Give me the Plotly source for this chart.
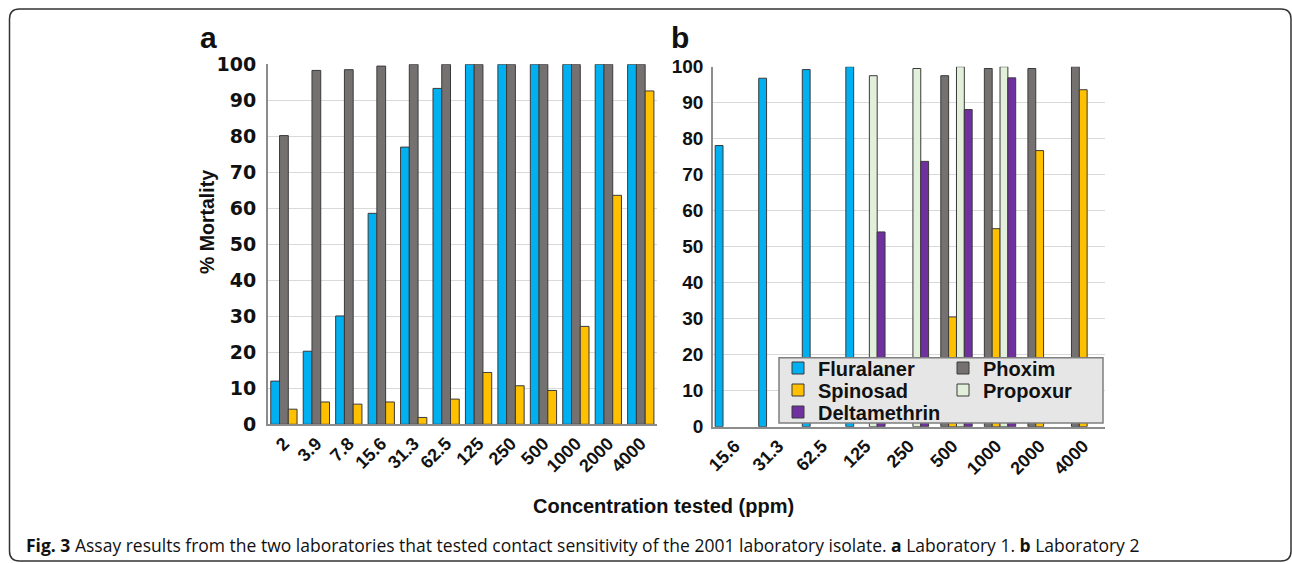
import plotly.graph_objects as go

# ---------------- data ----------------
conc_a = ["2", "3.9", "7.8", "15.6", "31.3", "62.5", "125", "250", "500", "1000", "2000", "4000"]
fluralaner_a = [12.0, 20.3, 30.1, 58.6, 77.0, 93.3, 100, 100, 100, 100, 100, 100]
phoxim_a = [80.2, 98.3, 98.5, 99.5, 100, 100, 100, 100, 100, 100, 100, 100]
spinosad_a = [4.2, 6.2, 5.6, 6.2, 1.9, 7.0, 14.4, 10.7, 9.4, 27.2, 63.6, 92.6]

conc_b = ["15.6", "31.3", "62.5", "125", "250", "500", "1000", "2000", "4000"]
fluralaner_b = [78.1, 96.8, 99.2, 100, None, None, None, None, None]
phoxim_b = [None, None, None, None, None, 97.5, 99.5, 99.5, 100]
spinosad_b = [None, None, None, None, None, 30.5, 55.0, 76.7, 93.6]
propoxur_b = [None, None, None, 97.5, 99.5, 100, 100, None, None]
deltamethrin_b = [None, None, None, 54.1, 73.7, 88.1, 96.9, None, None]

y_ticks = [0, 10, 20, 30, 40, 50, 60, 70, 80, 90, 100]

# ---------------- style ----------------
W, H = 1292, 563
def px(x):
    return x / W
def py(y):
    return 1 - y / H

COL = {"Fluralaner": "#00B0F0", "Phoxim": "#767171", "Spinosad": "#FFC000",
       "Propoxur": "#E2EFDA", "Deltamethrin": "#7030A0"}
OUTLINE = dict(color="#3a3a3a", width=1)
BOLD = "Liberation Sans, Arial, sans-serif"
WIDE = "DejaVu Sans, sans-serif"

fig = go.Figure()

# panel a (three touching bars per group)
bw_a = 0.27
for i, (name, vals) in enumerate([("Fluralaner", fluralaner_a), ("Phoxim", phoxim_a),
                                   ("Spinosad", spinosad_a)]):
    fig.add_trace(go.Bar(x=conc_a, y=vals, name=name, xaxis="x", yaxis="y",
                         marker=dict(color=COL[name], line=OUTLINE),
                         width=bw_a, offset=-1.5 * bw_a + i * bw_a,
                         showlegend=False))

# panel b
legend_of = {"Fluralaner": "legend", "Phoxim": "legend", "Spinosad": "legend2",
             "Propoxur": "legend2", "Deltamethrin": "legend3"}
for name, vals in [("Fluralaner", fluralaner_b), ("Phoxim", phoxim_b), ("Spinosad", spinosad_b),
                   ("Propoxur", propoxur_b), ("Deltamethrin", deltamethrin_b)]:
    fig.add_trace(go.Bar(x=conc_b, y=vals, name=name, xaxis="x2", yaxis="y2",
                         marker=dict(color=COL[name], line=OUTLINE),
                         legend=legend_of[name]))

axis_common = dict(showline=True, linecolor="#8c8c8c", linewidth=1.5, ticks="",
                   showgrid=False, zeroline=False, automargin=False)
yaxis_common = dict(range=[0, 100], tickvals=y_ticks, showgrid=True, gridcolor="#d9d9d9",
                    gridwidth=1, showline=True, linecolor="#8c8c8c", linewidth=1.5,
                    ticks="", zeroline=False, automargin=False)

leg_common = dict(orientation="h", xanchor="left", yanchor="middle", bgcolor="rgba(0,0,0,0)",
                  borderwidth=0, font=dict(family=BOLD, size=20, color="#111", weight="bold"),
                  traceorder="normal", itemclick=False, itemdoubleclick=False)

fig.update_layout(
    template="none",
    width=W, height=H, autosize=False,
    margin=dict(l=0, r=0, t=0, b=0, pad=0, autoexpand=False),
    paper_bgcolor="white", plot_bgcolor="white",
    barmode="group", bargap=0.1, bargroupgap=0,
    xaxis=dict(domain=[px(267.7), px(657)], type="category", tickangle=-45,
               tickfont=dict(family=BOLD, size=18, color="#111", weight="bold"),
               anchor="y", **axis_common),
    yaxis=dict(domain=[py(424.3), py(64.3)], anchor="x", ticklabelstandoff=6,
               tickfont=dict(family=WIDE, size=19, color="#111", weight="bold"), **yaxis_common),
    xaxis2=dict(domain=[px(713), px(1105)], type="category", tickangle=-45,
                tickfont=dict(family=BOLD, size=18, color="#111", weight="bold"),
                anchor="y2", **axis_common),
    yaxis2=dict(domain=[py(426.7), py(66.7)], anchor="x2", ticklabelstandoff=4,
                tickfont=dict(family=BOLD, size=19, color="#111", weight="bold"), **yaxis_common),
    legend=dict(x=px(778), y=py(368), entrywidth=120, **leg_common),
    legend2=dict(x=px(778), y=py(390), entrywidth=120, **leg_common),
    legend3=dict(x=px(778), y=py(412), entrywidth=160, **leg_common),
    showlegend=True,
)

# legend box behind legend entries (above the bars)
fig.add_shape(type="rect", xref="paper", yref="paper", layer="above",
              x0=px(779), x1=px(1103), y0=py(423), y1=py(357.7),
              fillcolor="#e6e6e6", line=dict(color="#7f7f7f", width=1.5))

# rounded frame around the figure
r = 10
x0, x1, y0, y1 = 9.5, 1291, 9, 561
path = (f"M {px(x0 + r)},{py(y0)} L {px(x1 - r)},{py(y0)} "
        f"Q {px(x1)},{py(y0)} {px(x1)},{py(y0 + r)} "
        f"L {px(x1)},{py(y1 - r)} Q {px(x1)},{py(y1)} {px(x1 - r)},{py(y1)} "
        f"L {px(x0 + r)},{py(y1)} Q {px(x0)},{py(y1)} {px(x0)},{py(y1 - r)} "
        f"L {px(x0)},{py(y0 + r)} Q {px(x0)},{py(y0)} {px(x0 + r)},{py(y0)} Z")
fig.add_shape(type="path", path=path, xref="paper", yref="paper",
              line=dict(color="#333333", width=1.5), fillcolor="rgba(0,0,0,0)")

ann = [
    dict(text="<b>a</b>", x=px(208), y=py(37), font=dict(family=BOLD, size=30, color="#111")),
    dict(text="<b>b</b>", x=px(680), y=py(37), font=dict(family=BOLD, size=30, color="#111")),
    dict(text="<b>% Mortality</b>", x=px(207), y=py(222), textangle=-90,
         font=dict(family=BOLD, size=19.5, color="#111")),
    dict(text="<b>Concentration tested (ppm)</b>", x=px(663), y=py(506),
         font=dict(family=BOLD, size=20, color="#111")),
]
for a in ann:
    fig.add_annotation(xref="paper", yref="paper", showarrow=False,
                       xanchor="center", yanchor="middle", **a)

fig.add_annotation(xref="paper", yref="paper", showarrow=False, xanchor="left", yanchor="middle",
                   x=px(24), y=py(545),
                   text="<b>Fig. 3</b> Assay results from the two laboratories that tested contact "
                        "sensitivity of the 2001 laboratory isolate. <b>a</b> Laboratory 1. "
                        "<b>b</b> Laboratory 2",
                   font=dict(family="Open Sans, sans-serif", size=17.5, color="#111"))

fig.write_html("out.html", config={"displayModeBar": False},
               post_script="document.documentElement.style.margin='0';"
                           "document.body.style.margin='0';"
                           "document.body.style.overflow='hidden';")
